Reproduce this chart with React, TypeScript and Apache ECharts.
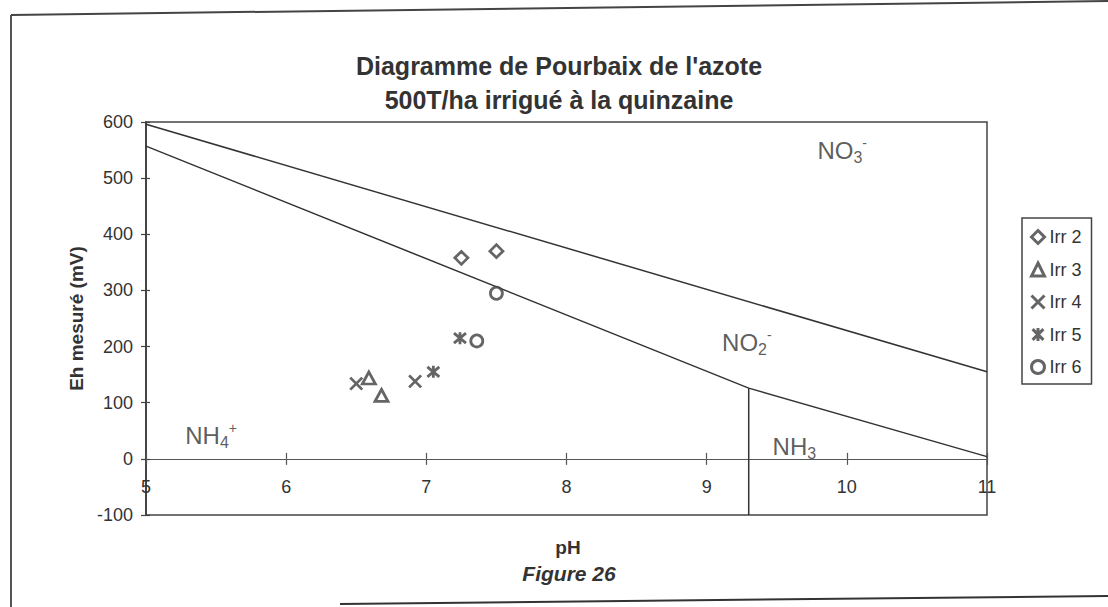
import React, { useEffect, useRef } from "react";
import * as echarts from "echarts";

const titleLines = ["Diagramme de Pourbaix de l'azote", "500T/ha irrigué à la quinzaine"];
const xName = "pH";
const yName = "Eh mesuré (mV)";
const figureLabel = "Figure 26";

// boundary lines of the diagram [pH, Eh]
const upperBoundary = [[5, 596], [11, 155]];
const lowerBoundary = [[5, 557], [9.3, 126], [11, 4]];
const nh3Boundary = [[9.3, 126], [9.3, -100]];

// measured points [pH, Eh]
const irr2 = [[7.25, 358], [7.5, 370]];
const irr3 = [[6.59, 144], [6.68, 113]];
const irr4 = [[6.5, 134], [6.92, 138]];
const irr5 = [[7.05, 155], [7.24, 215]];
const irr6 = [[7.5, 295], [7.36, 210]];

const seriesNames = ["Irr 2", "Irr 3", "Irr 4", "Irr 5", "Irr 6"];

// region labels [pH, Eh] (left-middle anchor)
const regionLabels = [
  { name: "NO3", value: [9.79, 549], text: "NO{sub|3}{sup|-}" },
  { name: "NO2", value: [9.11, 207], text: "NO{sub|2}{sup|-}" },
  { name: "NH4", value: [5.28, 41], text: "NH{sub|4}{sup|+}" },
  { name: "NH3", value: [9.47, 22], text: "NH{sub|3}" },
];

const FONT = "'Liberation Sans', Arial, Helvetica, sans-serif";
const INK = "#333";
const MARK = "#3f3f3f";

const X_PATH = "path://M0,0L10,10M10,0L0,10";
const AST_PATH = "path://M0,0L10,10M10,0L0,10M5,-1L5,11";

export default function App() {
  const ref = useRef<HTMLDivElement>(null);

  useEffect(() => {
    if (!ref.current) return;
    const chart = echarts.init(ref.current, undefined, { renderer: "svg" });

    const markerStyle = { color: "#fff", borderColor: MARK, borderWidth: 2.8 };

    const scatter = (name: string, data: number[][], symbol: string, size: any) => ({
      name,
      type: "scatter",
      data,
      symbol,
      symbolSize: size,
      itemStyle: markerStyle,
      z: 5,
    });

    const boundary = (data: number[][]) => ({
      type: "line",
      data,
      symbol: "none",
      lineStyle: { color: INK, width: 1.5 },
      silent: true,
      z: 3,
    });

    chart.setOption({
      animation: false,
      backgroundColor: "#fff",
      textStyle: { fontFamily: FONT },
      title: {
        text: titleLines.join("\n"),
        left: 559,
        textAlign: "center",
        top: 49,
        padding: 0,
        textStyle: {
          fontFamily: FONT,
          fontSize: 25,
          fontWeight: "bold",
          color: INK,
          lineHeight: 34,
        },
      },
      grid: {
        left: 146,
        right: 121,
        top: 122,
        bottom: 92,
        show: true,
        borderColor: "#444",
        borderWidth: 1.5,
        backgroundColor: "#fff",
      },
      legend: {
        orient: "vertical",
        left: 1022,
        top: 218,
        data: seriesNames,
        itemWidth: 13,
        itemHeight: 13,
        itemGap: 14.5,
        padding: [10, 10, 8, 8],
        borderColor: "#444",
        borderWidth: 1.5,
        backgroundColor: "#fff",
        textStyle: { fontFamily: FONT, fontSize: 18, color: INK },
        itemStyle: { borderWidth: 3 },
      },
      xAxis: [
        {
          type: "value",
          min: 5,
          max: 11,
          interval: 1,
          axisLine: { onZero: true, lineStyle: { color: "#555", width: 1.2 } },
          axisTick: { show: true, length: 6, lineStyle: { color: "#555", width: 1.2 } },
          axisLabel: { fontFamily: FONT, fontSize: 18, color: INK, margin: -37, showMinLabel: true, showMaxLabel: true },
          splitLine: { show: false },
        },
        {
          type: "value",
          min: 5,
          max: 11,
          interval: 1,
          position: "bottom",
          axisLine: { show: false, onZero: true, onZeroAxisIndex: 0 },
          axisTick: { show: true, inside: true, length: 6, lineStyle: { color: "#555", width: 1.2 } },
          axisLabel: { show: false },
          splitLine: { show: false },
        },
      ],
      yAxis: [
        {
          type: "value",
          min: -100,
          max: 600,
          interval: 100,
          name: yName,
          nameLocation: "middle",
          nameGap: 46,
          nameTextStyle: { fontFamily: FONT, fontSize: 19, fontWeight: "bold", color: INK },
          axisLine: { show: true, onZero: false, lineStyle: { color: "#444", width: 2 } },
          axisTick: { show: true, length: 5, lineStyle: { color: "#444", width: 1.2 } },
          axisLabel: { fontFamily: FONT, fontSize: 18, color: INK, margin: 13 },
          splitLine: { show: false },
        },
        {
          type: "value",
          min: -100,
          max: 600,
          interval: 100,
          position: "left",
          axisLine: { show: false, onZero: false },
          axisTick: { show: true, inside: true, length: 4, lineStyle: { color: "#444", width: 1.2 } },
          axisLabel: { show: false },
          splitLine: { show: false },
        },
      ],
      series: [
        boundary(upperBoundary),
        boundary(lowerBoundary),
        boundary(nh3Boundary),
        scatter(seriesNames[0], irr2, "diamond", 13),
        scatter(seriesNames[1], irr3, "triangle", [13, 12]),
        scatter(seriesNames[2], irr4, X_PATH, 12),
        scatter(seriesNames[3], irr5, AST_PATH, 12),
        scatter(seriesNames[4], irr6, "circle", 12),
        {
          type: "scatter",
          data: regionLabels.map((r) => ({ name: r.name, value: r.value })),
          symbolSize: 0,
          silent: true,
          z: 4,
          label: {
            show: true,
            position: "right",
            distance: 0,
            formatter: (p: any) => regionLabels[p.dataIndex].text,
            fontFamily: FONT,
            fontSize: 24,
            color: INK,
            lineHeight: 30,
            rich: {
              sub: { fontFamily: FONT, fontSize: 16, color: INK, lineHeight: 13, verticalAlign: "bottom" },
              sup: { fontFamily: FONT, fontSize: 14, color: INK, lineHeight: 12, verticalAlign: "top" },
            },
          },
        },
      ],
      graphic: [
        { type: "line", shape: { x1: 11, y1: 15, x2: 11, y2: 607 }, style: { stroke: "#555", lineWidth: 2 } },
        { type: "line", shape: { x1: 11, y1: 15, x2: 1108, y2: 1 }, style: { stroke: "#444", lineWidth: 2 } },
        { type: "line", shape: { x1: 340, y1: 604, x2: 1108, y2: 596 }, style: { stroke: "#333", lineWidth: 2 } },
        {
          type: "text",
          x: 568,
          y: 547,
          style: { text: xName, font: `bold 19px ${FONT}`, fill: INK, align: "center", verticalAlign: "middle" },
        },
        {
          type: "text",
          x: 569,
          y: 573,
          style: { text: figureLabel, font: `italic bold 21px ${FONT}`, fill: INK, align: "center", verticalAlign: "middle" },
        },
      ],
    });

    return () => chart.dispose();
  }, []);

  return (
    <div
      ref={ref}
      style={{ position: "fixed", left: 0, top: 0, width: 1108, height: 607, background: "#fff" }}
    />
  );
}
